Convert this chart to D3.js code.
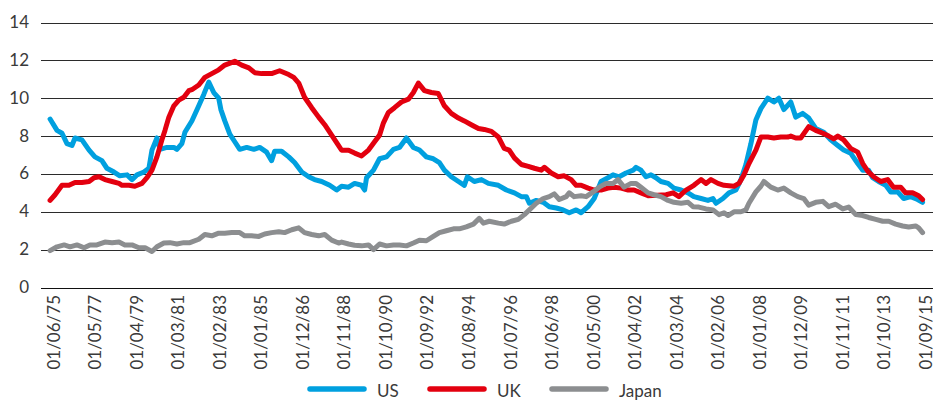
<!DOCTYPE html>
<html>
<head>
<meta charset="utf-8">
<script src="https://cdn.jsdelivr.net/npm/d3@7"></script>
<style>
  body { margin: 0; background: #fff; }
  svg { display: block; font-family: Lato, "Open Sans", sans-serif; }
</style>
</head>
<body>
<div id="chart"></div>
<script>
// values, [decimal year, value]
let usData = [
  [1975.42, 8.9], [1975.74, 8.3], [1975.97, 8.15], [1976.20, 7.6], [1976.43, 7.5], [1976.57, 7.9],
  [1976.89, 7.8], [1977.22, 7.26], [1977.49, 6.9], [1977.81, 6.7], [1978.04, 6.3], [1978.37, 6.1],
  [1978.64, 5.9], [1978.97, 5.95], [1979.20, 5.7], [1979.43, 5.95], [1979.75, 6.1], [1979.98, 6.3],
  [1980.12, 7.26], [1980.35, 7.9], [1980.49, 7.3], [1980.81, 7.4], [1981.13, 7.4], [1981.27, 7.3],
  [1981.50, 7.6], [1981.64, 8.2], [1981.96, 8.8], [1982.28, 9.6], [1982.51, 10.2], [1982.74, 10.85],
  [1982.97, 10.3], [1983.20, 10.0], [1983.30, 9.4], [1983.48, 8.8], [1983.71, 8.1], [1983.94, 7.7],
  [1984.17, 7.3], [1984.49, 7.4], [1984.82, 7.3], [1985.09, 7.4], [1985.41, 7.15], [1985.64, 6.7],
  [1985.78, 7.2], [1986.10, 7.2], [1986.43, 6.9], [1986.70, 6.6], [1987.03, 6.1], [1987.35, 5.85],
  [1987.62, 5.7], [1987.95, 5.6], [1988.32, 5.4], [1988.64, 5.15], [1988.87, 5.35], [1989.19, 5.3],
  [1989.47, 5.5], [1989.79, 5.4], [1989.93, 5.15], [1990.02, 5.8], [1990.34, 6.2], [1990.62, 6.8],
  [1990.94, 6.9], [1991.26, 7.3], [1991.54, 7.4], [1991.86, 7.9], [1992.18, 7.4], [1992.46, 7.26],
  [1992.78, 6.9], [1993.10, 6.8], [1993.38, 6.6], [1993.61, 6.2], [1993.93, 5.85], [1994.26, 5.6],
  [1994.53, 5.4], [1994.67, 5.85], [1994.99, 5.6], [1995.32, 5.7], [1995.64, 5.5], [1996.10, 5.4],
  [1996.47, 5.15], [1996.84, 5.0], [1997.16, 4.8], [1997.39, 4.8], [1997.53, 4.45], [1997.85, 4.6],
  [1998.17, 4.5], [1998.45, 4.27], [1998.77, 4.2], [1999.09, 4.1], [1999.37, 3.95], [1999.69, 4.1],
  [1999.92, 3.95], [2000.24, 4.27], [2000.52, 4.7], [2000.84, 5.6], [2001.16, 5.8], [2001.39, 5.95],
  [2001.67, 5.85], [2001.99, 6.05], [2002.32, 6.2], [2002.45, 6.35], [2002.68, 6.2], [2002.91, 5.85],
  [2003.14, 5.95], [2003.37, 5.8], [2003.60, 5.6], [2003.93, 5.5], [2004.20, 5.25], [2004.53, 5.15],
  [2004.85, 5.0], [2005.12, 4.8], [2005.45, 4.7], [2005.77, 4.6], [2006.00, 4.7], [2006.14, 4.45],
  [2006.46, 4.7], [2006.74, 5.0], [2007.06, 5.15], [2007.29, 5.7], [2007.52, 6.5], [2007.75, 7.6],
  [2007.98, 8.85], [2008.21, 9.45], [2008.53, 10.0], [2008.81, 9.8], [2009.04, 10.0], [2009.27, 9.4],
  [2009.59, 9.8], [2009.82, 9.0], [2010.14, 9.2], [2010.42, 8.95], [2010.74, 8.4], [2011.11, 8.2],
  [2011.43, 7.8], [2011.76, 7.5], [2012.03, 7.26], [2012.35, 7.1], [2012.68, 6.55], [2012.91, 6.2],
  [2013.18, 6.2], [2013.37, 5.8], [2013.64, 5.6], [2013.97, 5.4], [2014.20, 5.05], [2014.52, 5.05],
  [2014.80, 4.7], [2015.12, 4.8], [2015.44, 4.65], [2015.67, 4.5]
];
let ukData = [
  [1975.42, 4.6], [1975.65, 4.9], [1975.97, 5.4], [1976.29, 5.4], [1976.57, 5.55], [1976.89, 5.55],
  [1977.22, 5.6], [1977.45, 5.8], [1977.68, 5.85], [1977.95, 5.7], [1978.28, 5.6], [1978.60, 5.5],
  [1978.74, 5.4], [1979.06, 5.4], [1979.33, 5.35], [1979.66, 5.5], [1979.89, 5.8], [1980.12, 6.2],
  [1980.35, 6.9], [1980.58, 7.8], [1980.72, 8.3], [1980.90, 9.0], [1981.13, 9.6], [1981.36, 9.9],
  [1981.59, 10.05], [1981.82, 10.4], [1981.96, 10.45], [1982.28, 10.7], [1982.56, 11.1], [1982.88, 11.3],
  [1983.20, 11.5], [1983.48, 11.75], [1983.94, 11.95], [1984.26, 11.75], [1984.59, 11.6], [1984.86, 11.35],
  [1985.18, 11.3], [1985.64, 11.3], [1986.01, 11.45], [1986.43, 11.25], [1986.66, 11.1], [1986.89, 10.8],
  [1987.16, 10.05], [1987.49, 9.5], [1987.81, 9.0], [1988.09, 8.6], [1988.41, 8.05], [1988.73, 7.5],
  [1988.87, 7.25], [1989.19, 7.25], [1989.47, 7.1], [1989.79, 6.95], [1990.11, 7.26], [1990.39, 7.7],
  [1990.62, 8.05], [1990.80, 8.7], [1991.03, 9.25], [1991.31, 9.5], [1991.63, 9.8], [1991.95, 9.95],
  [1992.18, 10.3], [1992.41, 10.8], [1992.69, 10.4], [1993.01, 10.3], [1993.33, 10.25], [1993.61, 9.6],
  [1993.93, 9.2], [1994.26, 8.95], [1994.53, 8.8], [1994.85, 8.6], [1995.18, 8.4], [1995.45, 8.35],
  [1995.78, 8.25], [1996.10, 7.95], [1996.37, 7.35], [1996.60, 7.26], [1996.84, 6.85], [1997.16, 6.5],
  [1997.48, 6.4], [1997.76, 6.3], [1998.08, 6.2], [1998.22, 6.35], [1998.54, 6.05], [1998.86, 5.85],
  [1999.14, 5.9], [1999.46, 5.7], [1999.69, 5.4], [1999.92, 5.4], [2000.24, 5.25], [2000.52, 5.15],
  [2000.84, 5.15], [2001.16, 5.25], [2001.44, 5.3], [2001.76, 5.25], [2002.09, 5.15], [2002.36, 5.15],
  [2002.68, 5.0], [2003.01, 4.85], [2003.84, 4.9], [2004.16, 5.0], [2004.43, 4.8], [2004.76, 5.15],
  [2005.12, 5.4], [2005.45, 5.7], [2005.68, 5.5], [2005.91, 5.7], [2006.23, 5.5], [2006.51, 5.4],
  [2006.97, 5.35], [2007.20, 5.5], [2007.43, 5.95], [2007.66, 6.55], [2007.98, 7.26], [2008.21, 7.95],
  [2008.53, 7.95], [2008.81, 7.9], [2009.13, 7.95], [2009.45, 7.95], [2009.59, 8.0], [2009.82, 7.9],
  [2010.05, 7.9], [2010.42, 8.5], [2010.74, 8.3], [2011.07, 8.15], [2011.34, 8.0], [2011.57, 7.85],
  [2011.76, 8.0], [2012.03, 7.8], [2012.35, 7.35], [2012.68, 7.15], [2012.91, 6.55], [2013.14, 6.15],
  [2013.41, 5.85], [2013.74, 5.6], [2014.06, 5.7], [2014.33, 5.3], [2014.66, 5.3], [2014.89, 5.0],
  [2015.21, 5.0], [2015.49, 4.85], [2015.67, 4.65]
];
let japanData = [
  [1975.42, 1.95], [1975.74, 2.15], [1976.07, 2.25], [1976.34, 2.15], [1976.66, 2.25], [1976.99, 2.1],
  [1977.26, 2.25], [1977.58, 2.25], [1977.95, 2.4], [1978.28, 2.37], [1978.60, 2.4], [1978.87, 2.25],
  [1979.20, 2.25], [1979.52, 2.1], [1979.80, 2.1], [1980.12, 1.9], [1980.35, 2.15], [1980.67, 2.35],
  [1980.95, 2.37], [1981.27, 2.3], [1981.59, 2.37], [1981.87, 2.37], [1982.28, 2.55], [1982.56, 2.8],
  [1982.88, 2.73], [1983.20, 2.87], [1983.48, 2.87], [1983.80, 2.9], [1984.17, 2.9], [1984.40, 2.73],
  [1984.72, 2.73], [1985.05, 2.7], [1985.32, 2.83], [1985.64, 2.9], [1985.97, 2.95], [1986.24, 2.9],
  [1986.57, 3.05], [1986.89, 3.15], [1987.16, 2.9], [1987.49, 2.8], [1987.81, 2.73], [1988.09, 2.8],
  [1988.41, 2.5], [1988.73, 2.35], [1988.87, 2.4], [1989.19, 2.3], [1989.47, 2.23], [1989.79, 2.2],
  [1990.11, 2.25], [1990.34, 2.0], [1990.62, 2.3], [1990.94, 2.2], [1991.26, 2.25], [1991.54, 2.25],
  [1991.86, 2.2], [1992.18, 2.35], [1992.46, 2.5], [1992.78, 2.47], [1993.10, 2.7], [1993.38, 2.9],
  [1993.70, 3.0], [1994.03, 3.1], [1994.30, 3.1], [1994.62, 3.2], [1994.95, 3.35], [1995.22, 3.65],
  [1995.41, 3.4], [1995.68, 3.5], [1996.10, 3.4], [1996.37, 3.35], [1996.70, 3.5], [1997.02, 3.6],
  [1997.30, 3.85], [1997.53, 4.1], [1997.85, 4.45], [1998.17, 4.7], [1998.45, 4.8], [1998.68, 4.95],
  [1998.91, 4.65], [1999.23, 4.8], [1999.37, 5.0], [1999.60, 4.8], [1999.92, 4.85], [2000.15, 4.8],
  [2000.47, 5.05], [2000.75, 5.3], [2001.07, 5.5], [2001.39, 5.5], [2001.62, 5.7], [2001.90, 5.3],
  [2002.22, 5.5], [2002.45, 5.5], [2002.68, 5.3], [2003.01, 5.0], [2003.28, 4.9], [2003.60, 4.8],
  [2003.93, 4.6], [2004.20, 4.5], [2004.53, 4.45], [2004.85, 4.5], [2005.08, 4.27], [2005.35, 4.25],
  [2005.68, 4.15], [2006.00, 4.1], [2006.28, 3.85], [2006.51, 3.95], [2006.69, 3.8], [2006.97, 4.0],
  [2007.29, 4.0], [2007.52, 4.1], [2007.66, 4.45], [2007.98, 5.05], [2008.21, 5.35], [2008.35, 5.6],
  [2008.67, 5.3], [2008.99, 5.15], [2009.27, 5.25], [2009.59, 5.0], [2009.91, 4.8], [2010.19, 4.7],
  [2010.42, 4.35], [2010.74, 4.5], [2011.07, 4.55], [2011.34, 4.27], [2011.66, 4.4], [2011.99, 4.15],
  [2012.26, 4.25], [2012.59, 3.85], [2012.91, 3.8], [2013.18, 3.7], [2013.51, 3.6], [2013.83, 3.5],
  [2014.11, 3.5], [2014.43, 3.35], [2014.75, 3.25], [2015.03, 3.2], [2015.35, 3.25], [2015.49, 3.15],
  [2015.67, 2.9]
];
let seriesNames = ["US", "UK", "Japan"];
let seriesColors = ["#00a0df", "#e3000f", "#8c8e90"];
let yTicks = [0, 2, 4, 6, 8, 10, 12, 14];
let tickLabels = ["01/06/75", "01/05/77", "01/04/79", "01/03/81", "01/02/83", "01/01/85",
  "01/12/86", "01/11/88", "01/10/90", "01/09/92", "01/08/94", "01/07/96", "01/06/98",
  "01/05/00", "01/04/02", "01/03/04", "01/02/06", "01/01/08", "01/12/09", "01/11/11",
  "01/10/13", "01/09/15"];

let w = 944
let h = 401

// dd/mm/yy -> decimal year
function labelYear(s){
  let parts = s.split("/");
  let yy = +parts[2];
  return (yy < 50 ? 2000 + yy : 1900 + yy) + (+parts[1] - 1) / 12;
}

let viz = d3.select("#chart")
  .append("svg")
    .attr("width", w)
    .attr("height", h)
;

let xScale = d3.scaleLinear()
  .domain([labelYear(tickLabels[0]), labelYear(tickLabels[tickLabels.length - 1])])
  .range([50, 922.5]);
let yScale = d3.scaleLinear()
  .domain([0, 14])
  .range([287.5, 22.5]);

//gridlines
viz.append("g")
  .selectAll("line")
  .data(yTicks)
  .enter()
  .append("line")
    .attr("x1", 41)
    .attr("x2", 933)
    .attr("y1", d => Math.round(yScale(d)) + 0.5)
    .attr("y2", d => Math.round(yScale(d)) + 0.5)
    .attr("stroke", d => d == 0 ? "#111" : "#2b2b2b")
    .attr("stroke-width", 1.2)
;

//y labels
viz.append("g")
  .selectAll("text")
  .data(yTicks)
  .enter()
  .append("text")
    .text(d => d)
    .attr("x", 29)
    .attr("y", d => yScale(d) - 1)
    .attr("text-anchor", "end")
    .attr("dominant-baseline", "central")
    .attr("fill", "#3a3a3a")
    .attr("font-size", 17)
;

//x labels, rotated
viz.append("g")
  .selectAll("text")
  .data(tickLabels)
  .enter()
  .append("text")
    .text(d => d)
    .attr("transform", d => "translate(" + (xScale(labelYear(d)) + 3) + ",295) rotate(-90)")
    .attr("text-anchor", "end")
    .attr("dominant-baseline", "central")
    .attr("fill", "#3a3a3a")
    .attr("font-size", 17)
;

//lines
let line = d3.line()
  .x(d => xScale(d[0]))
  .y(d => yScale(d[1]));

let allData = [usData, ukData, japanData];
viz.append("g")
  .selectAll("path")
  .data(allData)
  .enter()
  .append("path")
    .attr("d", line)
    .attr("fill", "none")
    .attr("stroke", (d, i) => seriesColors[i])
    .attr("stroke-width", 5)
    .attr("stroke-linejoin", "round")
    .attr("stroke-linecap", "round")
;

//legend
let legendX = [308, 428, 550];
let legend = viz.append("g")
  .selectAll("g")
  .data(seriesNames)
  .enter()
  .append("g")
    .attr("transform", (d, i) => "translate(" + legendX[i] + ",389)")
;
legend.append("line")
  .attr("x1", 2)
  .attr("x2", 56)
  .attr("stroke", (d, i) => seriesColors[i])
  .attr("stroke-width", 5.5)
  .attr("stroke-linecap", "round")
;
legend.append("text")
  .text(d => d)
  .attr("x", 69)
  .attr("y", 8)
  .attr("fill", "#3a3a3a")
  .attr("font-size", 17)
;
</script>
</body>
</html>
